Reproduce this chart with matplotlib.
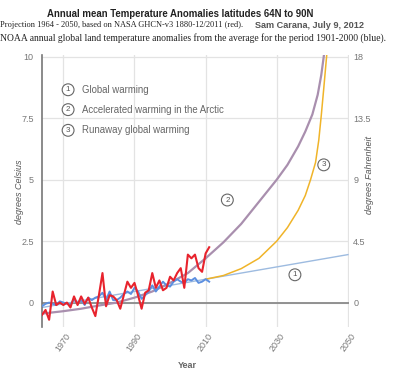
import numpy as np
import matplotlib
matplotlib.use("Agg")
import matplotlib.pyplot as plt

plt.rcParams["font.family"] = ["Liberation Sans", "DejaVu Sans"]

# annual data, 1964-2011
years = np.arange(1964, 2012)
arctic = [-0.5, -0.3, -0.7, 0.45, -0.1, 0.0, -0.1, 0.0, -0.2, 0.25,
          -0.1, 0.25, -0.05, 0.2, -0.2, -0.55, 0.3, 1.2, -0.15, 0.3,
          0.25, 0.1, -0.25, 0.3, 0.85, 0.6, 0.8, 0.3, -0.25, 0.4,
          0.5, 1.2, 0.6, 0.9, 0.5, 0.6, 1.05, 0.9, 1.2, 1.4,
          0.6, 1.95, 1.8, 1.95, 1.4, 1.25, 2.0, 2.25]
global_land = [-0.15, -0.05, 0.0, -0.05, -0.1, 0.05, 0.0, -0.05, -0.1, 0.15,
               -0.05, 0.1, -0.1, 0.2, 0.1, 0.2, 0.25, 0.4, 0.1, 0.45,
               0.1, 0.1, 0.2, 0.35, 0.45, 0.35, 0.6, 0.45, 0.15, 0.3,
               0.45, 0.7, 0.45, 0.65, 0.85, 0.7, 0.65, 0.85, 0.95, 0.85,
               0.8, 0.95, 0.9, 1.0, 0.8, 0.85, 0.95, 0.85]

# projections
trend_years = [1964, 2050]
trend_vals = [-0.2, 1.95]

accel_years = [1964, 1970, 1975, 1980, 1985, 1990, 1995, 2000, 2005, 2010,
               2015, 2020, 2025, 2030, 2033, 2036, 2038, 2040, 2041.5, 2042.5,
               2043.2, 2043.6]
accel_vals = [-0.45, -0.35, -0.25, -0.12, 0.0, 0.2, 0.45, 0.8, 1.2, 1.8,
              2.45, 3.2, 4.1, 5.0, 5.6, 6.35, 6.95, 7.65, 8.45, 9.25,
              10.0, 10.5]

runaway_years = [2010, 2015, 2020, 2025, 2030, 2033, 2036, 2038, 2039.5,
                 2040.9, 2041.8, 2042.5, 2043.2, 2044, 2044.3]
runaway_vals = [0.95, 1.1, 1.38, 1.8, 2.5, 3.05, 3.75, 4.35, 5.0,
                5.7, 6.6, 7.6, 8.7, 10.0, 10.5]

legend_items = ["Global warming", "Accelerated warming in the Arctic",
                "Runaway global warming"]

fig = plt.figure(figsize=(4, 3.84), dpi=100)
ax = fig.add_axes([0.105, 0.148, 0.7675, 0.709])

ax.plot(trend_years, trend_vals, color="#9dbbe0", lw=1.0, zorder=2)
ax.plot(runaway_years, runaway_vals, color="#f0b429", lw=1.1, zorder=2)
ax.plot(accel_years, accel_vals, color="#a98fae", lw=1.6, zorder=3)
ax.plot(years, global_land, color="#5c8fe0", lw=1.4, zorder=4)
ax.plot(years, arctic, color="#e8232d", lw=1.5, zorder=5)

ax.set_xlim(1964, 2050.3)
ax.set_ylim(-1, 10.07)
ax.set_xticks([1970, 1990, 2010, 2030, 2050])
ax.set_yticks([0, 2.5, 5, 7.5, 10])
ax.set_yticklabels(["0", "2.5", "5", "7.5", "10"])
ax.grid(True, color="#e3e3e3", lw=0.9)
ax.set_axisbelow(True)
ax.axhline(0, color="#8a8a8a", lw=1.3, zorder=1)
for s in ["top", "right", "bottom"]:
    ax.spines[s].set_visible(False)
ax.spines["left"].set_color("#777777")
ax.spines["left"].set_linewidth(1.2)
ax.tick_params(axis="both", length=0, labelsize=6.5, labelcolor="#777777")
ax.tick_params(axis="y", pad=6)
for lab in ax.get_xticklabels():
    lab.set_rotation(55)
    lab.set_ha("center")

sec = ax.secondary_yaxis("right", functions=(lambda c: c * 1.8, lambda f: f / 1.8))
sec.set_yticks([0, 4.5, 9, 13.5, 18])
sec.set_yticklabels(["0", "4.5", "9", "13.5", "18"])
sec.spines["right"].set_visible(False)
sec.tick_params(length=0, labelsize=6.5, labelcolor="#777777", pad=3)

circ = dict(boxstyle="circle,pad=0.3", fc="white", ec="#666666", lw=0.8)

# legend in the plot
for i, (label, yf) in enumerate(zip(legend_items, [0.872, 0.799, 0.723])):
    ax.text(0.085, yf, str(i + 1), transform=ax.transAxes, ha="center", va="center",
            fontsize=5.8, color="#555555", bbox=circ)
    ax.text(0.13, yf, label, transform=ax.transAxes, ha="left", va="center",
            fontsize=6.9, color="#666666")

# curve markers
for num, (cx, cy) in zip(["1", "2", "3"], [(2035.1, 1.13), (2016.1, 4.17), (2043.2, 5.6)]):
    ax.text(cx, cy, num, ha="center", va="center", fontsize=5.8, color="#555555",
            bbox=circ, zorder=6)

fig.text(0.05, 0.5, "degrees Celsius", rotation=90, ha="center", va="center",
         fontsize=6.5, style="italic", color="#555555")
fig.text(0.925, 0.545, "degrees Fahrenheit", rotation=90, ha="center", va="center",
         fontsize=6.5, style="italic", color="#555555")
fig.text(0.4675, 1 - 365 / 384, "Year", ha="center", va="center",
         fontsize=6.5, fontweight="bold", color="#666666")

fig.text(0.45, 1 - 14 / 384, "Annual mean Temperature Anomalies latitudes 64N to 90N",
         ha="center", va="center", fontsize=6.9, fontweight="bold", color="#222222")
fig.text(0.0, 1 - 25 / 384,
         "Projection 1964 - 2050, based on NASA GHCN-v3 1880-12/2011 (red).",
         ha="left", va="center", fontsize=6.0, family="Liberation Serif", color="#222222")
fig.text(0.6375, 1 - 25 / 384, "Sam Carana, July 9, 2012",
         ha="left", va="center", fontsize=6.6, fontweight="bold", color="#555555")
fig.text(0.0, 1 - 38 / 384,
         "NOAA annual global land temperature anomalies from the average for the period 1901-2000 (blue).",
         ha="left", va="center", fontsize=6.95, family="Liberation Serif", color="#222222")

fig.savefig("out.png", dpi=100)
